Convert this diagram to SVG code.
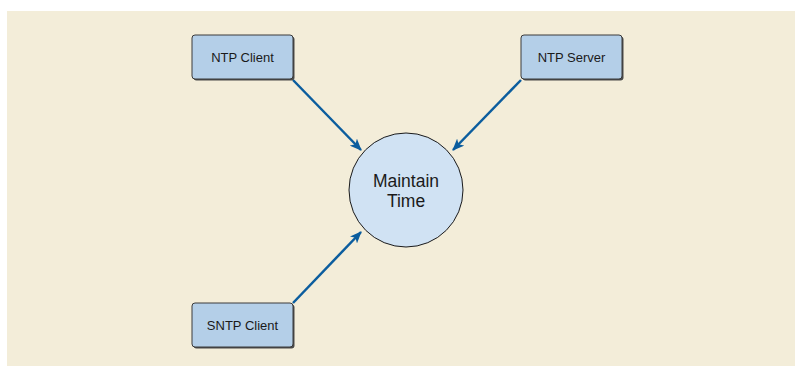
<svg xmlns="http://www.w3.org/2000/svg" width="795" height="366" viewBox="0 0 795 366">
<defs>
<style>
.box{fill:#b4cfe8;stroke:#3a3a3a;stroke-width:1}
.shadow{fill:#4a4a4a}
.lbl{font-family:"Liberation Sans",Arial,sans-serif;font-size:13px;fill:#1a1a1a;text-anchor:middle}
.big{font-family:"Liberation Sans",Arial,sans-serif;font-size:17.5px;fill:#1a1a1a;text-anchor:middle}
.conn{stroke:#0b5d9e;stroke-width:2.5;fill:none;marker-end:url(#ah)}
</style>
<marker id="ah" markerWidth="12" markerHeight="10" viewBox="0 0 12 10" refX="11" refY="5" orient="auto" markerUnits="userSpaceOnUse">
<path d="M0,0 L12,5 L0,10 L3,5 Z" fill="#0b5d9e"/>
</marker>
</defs>
<rect x="7" y="11" width="788" height="355" fill="#f3edd9"/>
<g id="connectors">
<line class="conn" x1="293" y1="80" x2="361" y2="150"/>
<line class="conn" x1="521" y1="80" x2="453" y2="150"/>
<line class="conn" x1="293" y1="303" x2="361" y2="232"/>
</g>
<g id="maintain-time">
<circle cx="406" cy="190" r="57" fill="#d0e2f3" stroke="#1a1a1a" stroke-width="1"/>
<text class="big" x="406" y="187">Maintain</text>
<text class="big" x="406" y="207">Time</text>
</g>
<g id="ntp-client">
<rect class="shadow" x="193.5" y="36.5" width="101" height="44" rx="3"/>
<rect class="box" x="192" y="35" width="101" height="44" rx="3"/>
<text class="lbl" x="242.5" y="61.5">NTP Client</text>
</g>
<g id="ntp-server">
<rect class="shadow" x="522.5" y="36.5" width="101" height="44" rx="3"/>
<rect class="box" x="521" y="35" width="101" height="44" rx="3"/>
<text class="lbl" x="571.5" y="61.5">NTP Server</text>
</g>
<g id="sntp-client">
<rect class="shadow" x="193.5" y="304.5" width="101" height="44" rx="3"/>
<rect class="box" x="192" y="303" width="101" height="44" rx="3"/>
<text class="lbl" x="242.5" y="329.5">SNTP Client</text>
</g>
</svg>
